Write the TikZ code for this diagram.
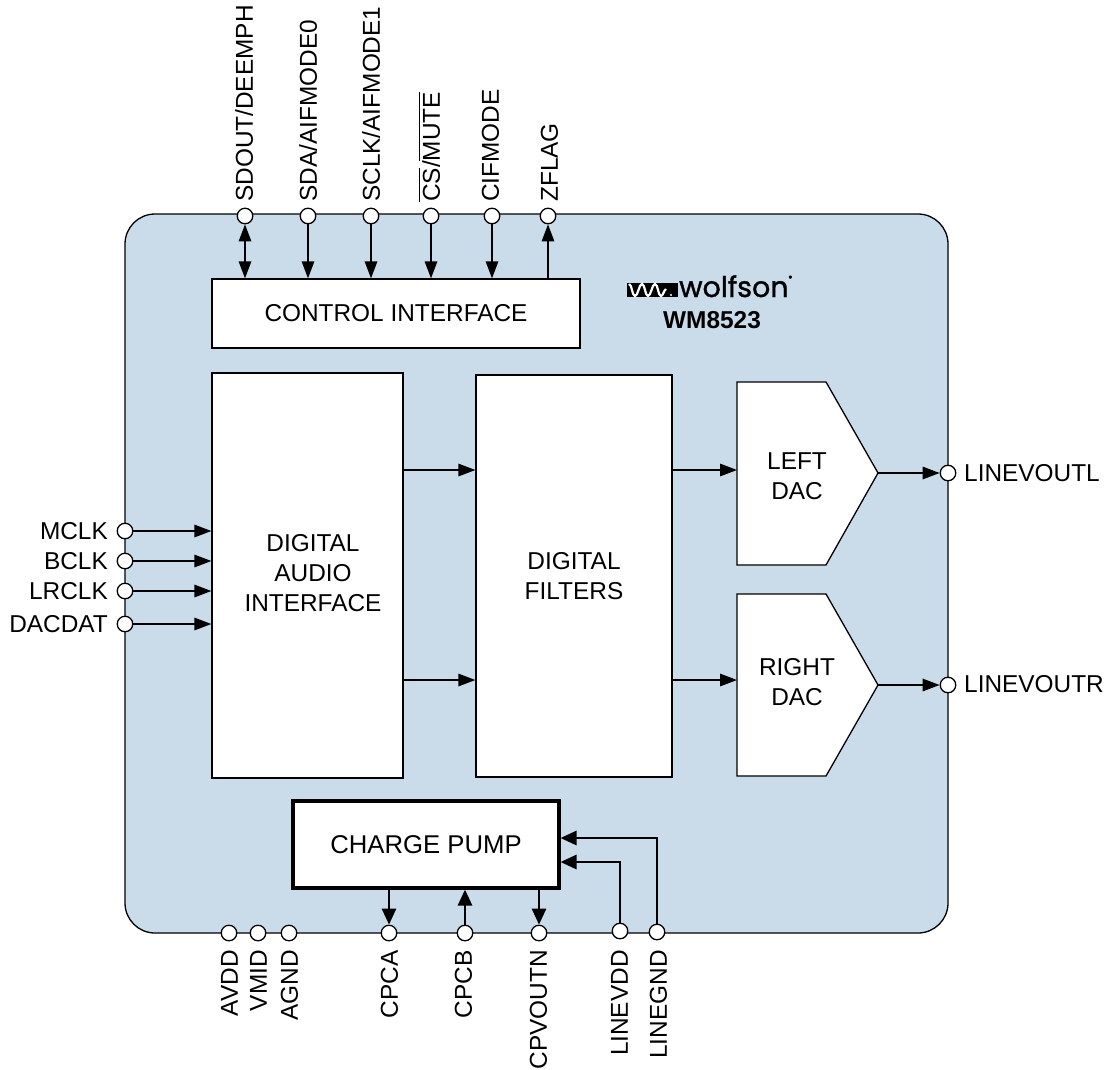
\documentclass[tikz,border=0pt]{standalone}
\usepackage{amsmath}
\usepackage{fontspec}
\setmainfont{Liberation Sans}
\newfontfamily\logofont[FakeBold=1.2]{Poppins}
\usetikzlibrary{arrows.meta}
\definecolor{chipblue}{HTML}{CADCE9}
\tikzset{
	txt/.style={font=\fontsize{24.4}{30}\selectfont, inner sep=0pt, align=center},
	toppin/.style={txt, rotate=90, anchor=west, text height=17.5pt, text depth=0pt},
	botpin/.style={txt, rotate=90, anchor=east, text height=17.5pt, text depth=0pt},
	block/.style={draw, fill=white, line width=1.3pt, inner sep=0pt},
	pin/.style={circle, draw, fill=white, line width=1.3pt, inner sep=0pt, minimum size=15.5pt},
	sig/.style={line width=1.5pt, -{Triangle[length=17pt,width=12.5pt]}},
	sigb/.style={line width=1.5pt, {Triangle[length=17pt,width=12.5pt]}-{Triangle[length=17pt,width=12.5pt]}},
	sigp/.style={line width=2.8pt, -{Triangle[length=16pt,width=14pt]}}
}
\begin{document}
\begin{tikzpicture}[x=1pt, y=-1pt]
	\useasboundingbox (0,0) rectangle (1110,1069);
	\draw[fill=chipblue, line width=1.3pt, rounded corners=30pt] (125,214) rectangle (948,933);

	% blocks
	\node[block, minimum width=368pt, minimum height=69pt, txt, draw] (ctrl) at (396,313.5) {CONTROL INTERFACE};
	\node[block, minimum width=191pt, minimum height=405pt] (audio) at (307.5,575.5) {};
	\node[txt] (audiotxt) at (313,573.5) {DIGITAL\\AUDIO\\INTERFACE};
	\node[block, minimum width=196pt, minimum height=402pt, txt, draw] (filters) at (574,576) {DIGITAL\\FILTERS};
	\node[block, minimum width=266pt, minimum height=87pt, txt, draw, line width=3.05pt, font=\fontsize{25.7}{30}\selectfont] (pump) at (426,844.5) {CHARGE PUMP};

	\coordinate (ldacin) at (737,470);
	\coordinate (ldactip) at (878,473);
	\draw[block] (737,382) -- (826,382) -- (ldactip) -- (826,565) -- (737,565) -- cycle;
	\node[txt] (ldac) at (797,476) {LEFT\\DAC};
	\coordinate (rdacin) at (737,680);
	\coordinate (rdactip) at (878,685);
	\draw[block] (737,594) -- (826,594) -- (rdactip) -- (826,776) -- (737,776) -- cycle;
	\node[txt] (rdac) at (797,682) {RIGHT\\DAC};

	% logo
	\fill (627,283) rectangle (678,297);
	\draw[white, line width=2.2pt] (629,284) .. controls (632,284) and (632,296) .. (635,296) .. controls (638,296) and (639,284) .. (642,284) .. controls (645,284) and (645,296) .. (648,296) .. controls (651,296) and (652,284) .. (655,284) .. controls (658,284) and (658,296) .. (661,296) .. controls (663,296) and (664,290) .. (666,289);
	\fill[white] (671,295) circle (1.2pt);
	\node[anchor=base west, inner sep=0pt, font=\logofont\fontsize{28.5}{28}\selectfont] (logo) at (679,297) {wolfson\raisebox{1.05ex}{\fontsize{7}{7}\selectfont ®}};
	\node[txt, font=\bfseries\fontsize{24.4}{30}\selectfont] (part) at (712,320) {WM8523};

	% pins top
	\node[pin] (sdout) at (245,216) {};
	\node[pin] (sda) at (308,216) {};
	\node[pin] (sclk) at (371,216) {};
	\node[pin] (cs) at (431,216) {};
	\node[pin] (cifmode) at (492,216) {};
	\node[pin] (zflag) at (548,216) {};
	\node[toppin] (sdouttxt) at (244,202) {SDOUT/DEEMPH};
	\node[toppin] (sdatxt) at (308,202) {SDA/AIFMODE0};
	\node[toppin] (sclktxt) at (371,202) {SCLK/AIFMODE1};
	\node[toppin] (cstxt) at (431,202) {$\overline{\hbox{CS}}$/$\overline{\hbox{MUTE}}$};
	\node[toppin] (cifmodetxt) at (490,202) {CIFMODE};
	\node[toppin] (zflagtxt) at (549,202) {ZFLAG};

	\draw[sigb] (sdout) -- (sdout |- ctrl.north);
	\draw[sig] (sda) -- (sda |- ctrl.north);
	\draw[sig] (sclk) -- (sclk |- ctrl.north);
	\draw[sig] (cs) -- (cs |- ctrl.north);
	\draw[sig] (cifmode) -- (cifmode |- ctrl.north);
	\draw[sig] (zflag |- ctrl.north) -- (zflag);

	% pins left
	\node[pin] (mclk) at (125,531) {};
	\node[pin] (bclk) at (125,561) {};
	\node[pin] (lrclk) at (125,591) {};
	\node[pin] (dacdat) at (125,624) {};
	\node[txt, anchor=east] (mclktxt) at (108,531) {MCLK};
	\node[txt, anchor=east] (bclktxt) at (108,561) {BCLK};
	\node[txt, anchor=east] (lrclktxt) at (108,591) {LRCLK};
	\node[txt, anchor=east] (dacdattxt) at (108,624) {DACDAT};

	\draw[sig] (mclk) -- (mclk -| audio.west);
	\draw[sig] (bclk) -- (bclk -| audio.west);
	\draw[sig] (lrclk) -- (lrclk -| audio.west);
	\draw[sig] (dacdat) -- (dacdat -| audio.west);

	\draw[sig] (audio.east |- ldacin) -- (filters.west |- ldacin);
	\draw[sig] (audio.east |- rdacin) -- (filters.west |- rdacin);
	\draw[sig] (filters.east |- ldacin) -- (ldacin);
	\draw[sig] (filters.east |- rdacin) -- (rdacin);

	% pins right
	\node[pin] (voutl) at (948,473) {};
	\node[pin] (voutr) at (948,685) {};
	\node[txt, anchor=west] (voutltxt) at (964,473) {LINEVOUTL};
	\node[txt, anchor=west] (voutrtxt) at (964,684) {LINEVOUTR};
	\draw[sig] (ldactip) -- (voutl);
	\draw[sig] (rdactip) -- (voutr);

	% pins bottom
	\node[pin] (avdd) at (229,933) {};
	\node[pin] (vmid) at (258,933) {};
	\node[pin] (agnd) at (289,933) {};
	\node[pin] (cpca) at (389,933) {};
	\node[pin] (cpcb) at (465,933) {};
	\node[pin] (cpvoutn) at (539,933) {};
	\node[pin] (linevdd) at (620,931) {};
	\node[pin] (linegnd) at (657,932) {};
	\node[botpin] (avddtxt) at (229,950) {AVDD};
	\node[botpin] (vmidtxt) at (258,950) {VMID};
	\node[botpin] (agndtxt) at (289,950) {AGND};
	\node[botpin] (cpcatxt) at (389,950) {CPCA};
	\node[botpin] (cpcbtxt) at (463,950) {CPCB};
	\node[botpin] (cpvoutntxt) at (538,950) {CPVOUTN};
	\node[botpin] (linevddtxt) at (619,950) {LINEVDD};
	\node[botpin] (linegndtxt) at (658,950) {LINEGND};

	\draw[sigp] (cpca |- pump.south) -- (cpca);
	\draw[sigp] (cpcb) -- (cpcb |- pump.south);
	\draw[sigp] (cpvoutn |- pump.south) -- (cpvoutn);
	\coordinate (vddin) at (pump.east |- 0,862);
	\coordinate (gndin) at (pump.east |- 0,838);
	\draw[sigp] (linevdd) |- (vddin);
	\draw[sigp] (linegnd) |- (gndin);
\end{tikzpicture}
\end{document}
